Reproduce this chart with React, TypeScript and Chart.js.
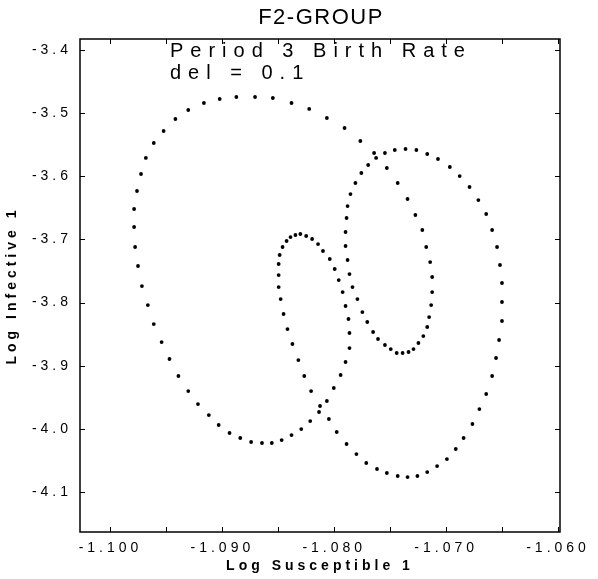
import React, { useEffect, useRef } from "react";
import { Chart, registerables } from "chart.js";

Chart.register(...registerables);

const chartTitle = "F2-GROUP";
const noteLines = ["Period 3 Birth Rate", "del = 0.1"];
const xLabel = "Log Susceptible 1";
const yLabel = "Log Infective 1";

const xTicks = [-1.1, -1.09, -1.08, -1.07, -1.06];
const xMinorTicks = [-1.095, -1.085, -1.075, -1.065];
const yTicks = [-3.4, -3.5, -3.6, -3.7, -3.8, -3.9, -4.0, -4.1];
const xRange = [-1.102725, -1.059824];
const yRange = [-4.16335, -3.38258];

const susceptible = [
  -1.08382, -1.08549, -1.08708, -1.08875, -1.09024, -1.09165, -1.09305, -1.0942, -1.09525, -1.09613,
  -1.09684, -1.09727, -1.09763, -1.09789, -1.09789, -1.0978, -1.09754, -1.09719, -1.09666, -1.09613,
  -1.09543, -1.09473, -1.09393, -1.09305, -1.09218, -1.09121, -1.09033, -1.08936, -1.0884, -1.08743,
  -1.08646, -1.08558, -1.0847, -1.08382, -1.08295, -1.08215, -1.08136, -1.08066, -1.08004, -1.07943,
  -1.07899, -1.07864, -1.07864, -1.07873, -1.07899, -1.07925, -1.0796, -1.07996, -1.0804, -1.08101,
  -1.08145, -1.08198, -1.08251, -1.08303, -1.08347, -1.08391, -1.08426, -1.08462, -1.08488, -1.08497,
  -1.08497, -1.08497, -1.08479, -1.08453, -1.08418, -1.08374, -1.08321, -1.08268, -1.08207, -1.08127,
  -1.08048, -1.07978, -1.0789, -1.07802, -1.07714, -1.07618, -1.0753, -1.07433, -1.07345, -1.07257,
  -1.07169, -1.07081, -1.06993, -1.06914, -1.06844, -1.06765, -1.06703, -1.06642, -1.06589, -1.06554,
  -1.06527, -1.06501, -1.06501, -1.06501, -1.06519, -1.06545, -1.06589, -1.06642, -1.06712, -1.06791,
  -1.06879, -1.06967, -1.07073, -1.07169, -1.07266, -1.07363, -1.07459, -1.07547, -1.07626, -1.07697,
  -1.07758, -1.07811, -1.07855, -1.07881, -1.0789, -1.07899, -1.07899, -1.07881, -1.07864, -1.07837,
  -1.07793, -1.07749, -1.07705, -1.07653, -1.07609, -1.07547, -1.07495, -1.07442, -1.07389, -1.07336,
  -1.07292, -1.07248, -1.07204, -1.07169, -1.07152, -1.07134, -1.07125, -1.07125, -1.07143, -1.07178,
  -1.07213, -1.07275, -1.07345, -1.07433, -1.0753, -1.07644, -1.07767, -1.07908, -1.08066, -1.08224,
];

const infective = [
  -3.4839, -3.476, -3.4744, -3.4744, -3.4776, -3.4839, -3.495, -3.5093, -3.5283, -3.5473,
  -3.571, -3.5964, -3.6233, -3.6518, -3.6803, -3.712, -3.7421, -3.7738, -3.8039, -3.834,
  -3.8625, -3.8894, -3.9163, -3.9401, -3.9607, -3.9781, -3.9939, -4.0066, -4.0145, -4.0208,
  -4.0224, -4.0224, -4.0177, -4.0098, -4.0003, -3.9876, -3.9733, -3.9559, -3.9353, -3.9147,
  -3.8941, -3.872, -3.8482, -3.826, -3.8054, -3.7833, -3.7643, -3.7468, -3.731, -3.7183,
  -3.7073, -3.6993, -3.6946, -3.6914, -3.693, -3.6962, -3.7025, -3.712, -3.7247, -3.7389,
  -3.7564, -3.7754, -3.7944, -3.8181, -3.8419, -3.8656, -3.891, -3.9163, -3.9401, -3.9638,
  -3.9844, -4.005, -4.024, -4.0399, -4.0541, -4.0636, -4.0699, -4.0747, -4.0763, -4.0747,
  -4.0684, -4.0589, -4.0478, -4.0319, -4.0145, -3.9923, -3.9686, -3.9448, -3.9163, -3.8878,
  -3.8593, -3.8292, -3.7991, -3.769, -3.7405, -3.712, -3.6851, -3.6597, -3.6376, -3.617,
  -3.5996, -3.5853, -3.5726, -3.5647, -3.5584, -3.5568, -3.5584, -3.5631, -3.571, -3.5821,
  -3.5948, -3.6106, -3.6281, -3.6471, -3.6661, -3.6882, -3.7104, -3.7326, -3.7548, -3.7754,
  -3.7944, -3.815, -3.8308, -3.8466, -3.8577, -3.8672, -3.8736, -3.8799, -3.8799, -3.8783,
  -3.8736, -3.864, -3.853, -3.8387, -3.8229, -3.8039, -3.7833, -3.7595, -3.7358, -3.712,
  -3.6851, -3.6613, -3.636, -3.6106, -3.5869, -3.5631, -3.5441, -3.5235, -3.5077, -3.4934,
];

const FONT = '"Liberation Sans", Arial, sans-serif';

const framePlugin = {
  id: "framePlugin",
  beforeLayout(chart: any) {
    chart.ctx.letterSpacing = "4px";
  },
  beforeDraw(chart: any) {
    const ctx = chart.ctx;
    ctx.save();
    ctx.fillStyle = "#fff";
    ctx.fillRect(0, 0, chart.width, chart.height);
    ctx.restore();
    ctx.letterSpacing = "4px";
  },
  afterDraw(chart: any) {
    const { ctx, chartArea, scales } = chart;
    const { left, right, top, bottom } = chartArea;
    ctx.save();
    ctx.strokeStyle = "#000";
    ctx.lineWidth = 1.5;
    ctx.strokeRect(left, top, right - left, bottom - top);
    ctx.lineWidth = 1;
    ctx.beginPath();
    [...xTicks, ...xMinorTicks].forEach((v) => {
      const px = Math.round(scales.x.getPixelForValue(v)) + 0.5;
      ctx.moveTo(px, bottom);
      ctx.lineTo(px, bottom - 5);
      ctx.moveTo(px, top);
      ctx.lineTo(px, top + 5);
    });
    yTicks.forEach((v) => {
      const py = Math.round(scales.y.getPixelForValue(v)) + 0.5;
      ctx.moveTo(left, py);
      ctx.lineTo(left + 5, py);
      ctx.moveTo(right, py);
      ctx.lineTo(right - 5, py);
    });
    ctx.stroke();

    ctx.fillStyle = "#000";
    ctx.textBaseline = "alphabetic";
    ctx.letterSpacing = "1.5px";
    ctx.font = `22px ${FONT}`;
    ctx.textAlign = "center";
    ctx.fillText(chartTitle, 321, 24);

    ctx.letterSpacing = "7px";
    ctx.font = `20px ${FONT}`;
    ctx.textAlign = "left";
    ctx.fillText(noteLines[0], 170, 57);
    ctx.fillText(noteLines[1], 170, 79);
    ctx.restore();
  },
};

export default function App() {
  const canvasRef = useRef<HTMLCanvasElement | null>(null);

  useEffect(() => {
    const canvas = canvasRef.current;
    if (!canvas) return;
    const points = susceptible.map((x, i) => ({ x, y: infective[i] }));
    const chart = new Chart(canvas, {
      type: "scatter",
      data: {
        datasets: [
          {
            data: points,
            backgroundColor: "#000",
            borderColor: "#000",
            borderWidth: 0,
            pointRadius: 1.9,
            pointStyle: "circle",
          },
        ],
      },
      options: {
        animation: false,
        responsive: true,
        maintainAspectRatio: false,
        devicePixelRatio: 1,
        layout: { padding: { top: 39, right: 30, left: 0, bottom: 0 } },
        plugins: {
          legend: { display: false },
          tooltip: { enabled: false },
          title: { display: false },
        },
        scales: {
          x: {
            type: "linear",
            min: xRange[0],
            max: xRange[1],
            grid: { display: false, drawTicks: false },
            border: { display: false },
            afterBuildTicks: (scale: any) => {
              scale.ticks = xTicks.map((v) => ({ value: v }));
            },
            afterFit: (scale: any) => {
              scale.height = 47;
            },
            ticks: {
              color: "#000",
              padding: 8,
              maxRotation: 0,
              autoSkip: false,
              font: { family: FONT, size: 14 },
              callback: (v: any) => Number(v).toFixed(3),
            },
            title: {
              display: true,
              text: xLabel,
              color: "#000",
              font: { family: FONT, size: 14, weight: "bold" },
              padding: { top: 0, bottom: 4 },
            },
          },
          y: {
            type: "linear",
            min: yRange[0],
            max: yRange[1],
            grid: { display: false, drawTicks: false },
            border: { display: false },
            afterBuildTicks: (scale: any) => {
              scale.ticks = yTicks.map((v) => ({ value: v }));
            },
            afterFit: (scale: any) => {
              scale.width = 80;
            },
            ticks: {
              color: "#000",
              padding: 8,
              autoSkip: false,
              font: { family: FONT, size: 14 },
              callback: (v: any) => Number(v).toFixed(1),
            },
            title: {
              display: true,
              text: yLabel,
              color: "#000",
              font: { family: FONT, size: 14, weight: "bold" },
              padding: { top: 4, bottom: 0 },
            },
          },
        },
      },
      plugins: [framePlugin],
    });
    return () => chart.destroy();
  }, []);

  return (
    <div style={{ position: "absolute", left: 0, top: 0, width: 598, height: 579 }}>
      <canvas ref={canvasRef} />
    </div>
  );
}
